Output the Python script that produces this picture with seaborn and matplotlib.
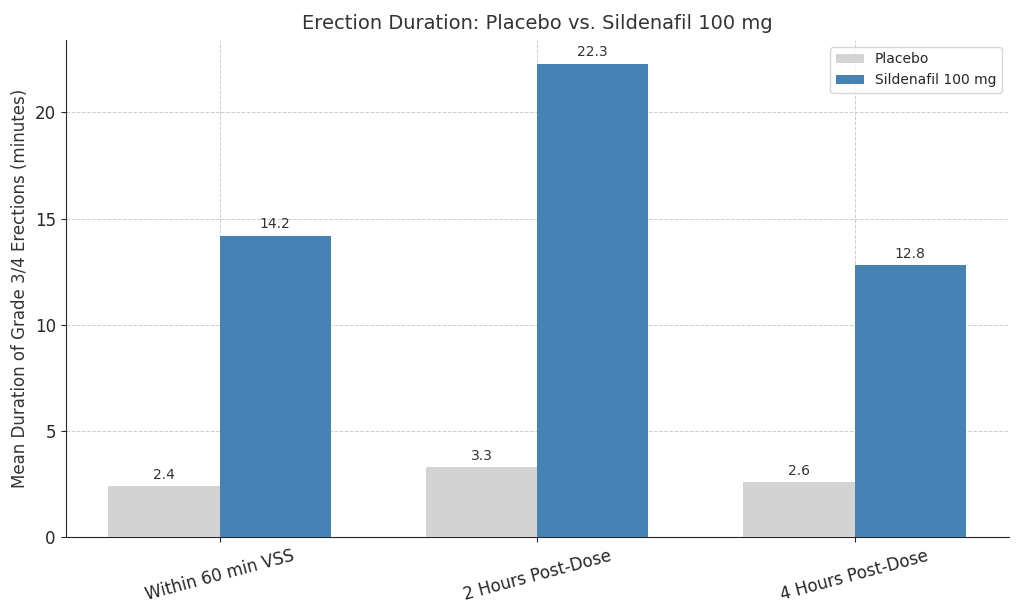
import numpy as np
import pandas as pd
import seaborn as sns
import matplotlib
matplotlib.use("Agg")
import matplotlib.pyplot as plt

timepoints = ["Within 60 min VSS", "2 Hours Post-Dose", "4 Hours Post-Dose"]
groups = ["Placebo", "Sildenafil 100 mg"]
placebo = [2.4, 3.3, 2.6]
sildenafil = [14.2, 22.3, 12.8]

df = pd.DataFrame({
    "timepoint": timepoints * 2,
    "group": [groups[0]] * 3 + [groups[1]] * 3,
    "duration": placebo + sildenafil,
})

sns.set_style("ticks")
plt.rcParams["font.family"] = ["DejaVu Sans"]

fig, ax = plt.subplots(figsize=(10.24, 6.14), dpi=100)
sns.barplot(data=df, x="timepoint", y="duration", hue="group",
            palette=["lightgray", "steelblue"], width=0.7,
            saturation=1, errorbar=None, linewidth=0, ax=ax, zorder=3)

for cont in ax.containers:
    ax.bar_label(cont, fmt="%.1f", padding=3, fontsize=10, color="#333333")

ax.set_xlim(-0.485, 2.485)
ax.set_ylim(0, max(sildenafil) * 1.05)
ax.grid(True, linestyle="--", linewidth=0.7, color="#cccccc", zorder=0)
ax.set_axisbelow(True)
sns.despine(ax=ax)

ax.set_title("Erection Duration: Placebo vs. Sildenafil 100 mg", fontsize=14, color="#333333", pad=8)
ax.set_xlabel("")
ax.set_ylabel("Mean Duration of Grade 3/4 Erections (minutes)", fontsize=12, color="#333333")
ax.tick_params(axis="x", labelsize=12, rotation=15)
ax.tick_params(axis="y", labelsize=12)
ax.legend(loc="upper right", fontsize=10, title=None)

fig.subplots_adjust(left=0.064, right=0.985, top=0.935, bottom=0.125)
fig.savefig("out.png", dpi=100)
